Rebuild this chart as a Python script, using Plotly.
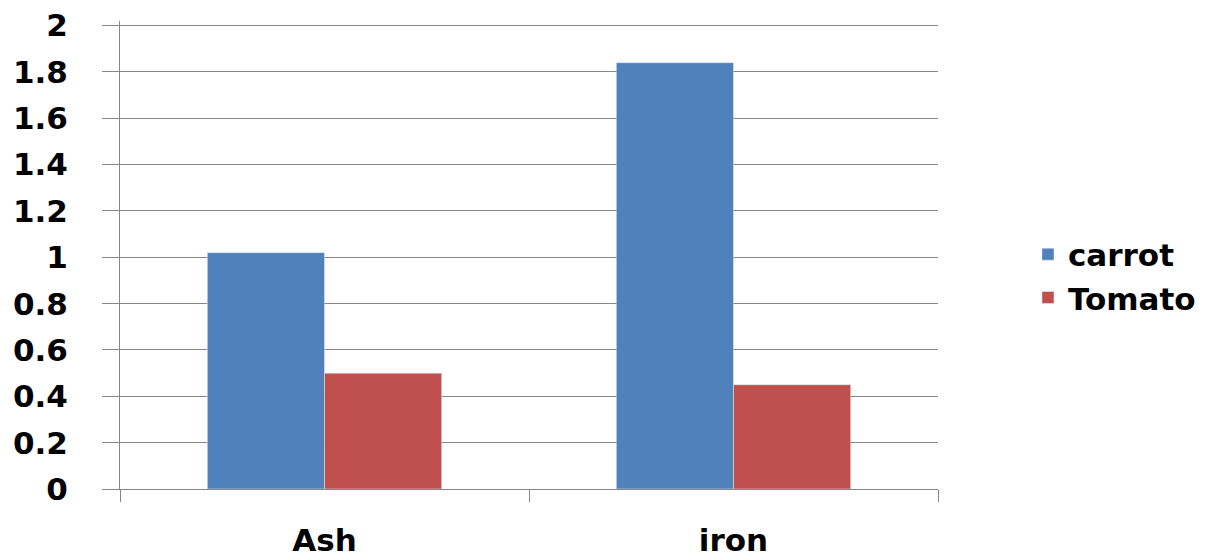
import plotly.graph_objects as go

categories = ["Ash", "iron"]
carrot = [1.02, 1.84]
tomato = [0.50, 0.45]
y_ticks = [0, 0.2, 0.4, 0.6, 0.8, 1, 1.2, 1.4, 1.6, 1.8, 2]
y_tick_labels = ["0", "0.2", "0.4", "0.6", "0.8", "1", "1.2", "1.4", "1.6", "1.8", "2"]

FONT = "DejaVu Sans"
fig = go.Figure()
fig.add_trace(go.Bar(name="carrot", x=categories, y=carrot, marker_color="#4F81BD"))
fig.add_trace(go.Bar(name="Tomato", x=categories, y=tomato, marker_color="#C0504D"))

fig.update_layout(
    width=1223, height=560,
    margin=dict(l=120, r=285, t=21, b=71, autoexpand=False),
    paper_bgcolor="white", plot_bgcolor="white",
    barmode="group", bargap=0.427, bargroupgap=0,
    font=dict(family=FONT, size=31, color="black", weight="bold"),
    legend=dict(x=1.11, xanchor="left", y=0.455, yanchor="middle",
                font=dict(family=FONT, size=31, color="black", weight="bold"),
                bgcolor="rgba(0,0,0,0)", tracegroupgap=0),
    showlegend=True,
)
fig.update_xaxes(
    automargin=False,
    showline=True, linecolor="#868686", linewidth=1,
    ticks="outside", tickson="boundaries", ticklen=12, tickcolor="#868686",
    ticklabelstandoff=24, showgrid=False,
)
fig.update_yaxes(
    automargin=False,
    range=[0, 2.02], tickvals=y_ticks, ticktext=y_tick_labels,
    showline=True, linecolor="#868686", linewidth=1,
    showgrid=True, gridcolor="#868686", gridwidth=1,
    ticks="outside", ticklen=17, tickcolor="#868686",
    ticklabelstandoff=28, zeroline=False,
)
fig.write_html("out.html")
